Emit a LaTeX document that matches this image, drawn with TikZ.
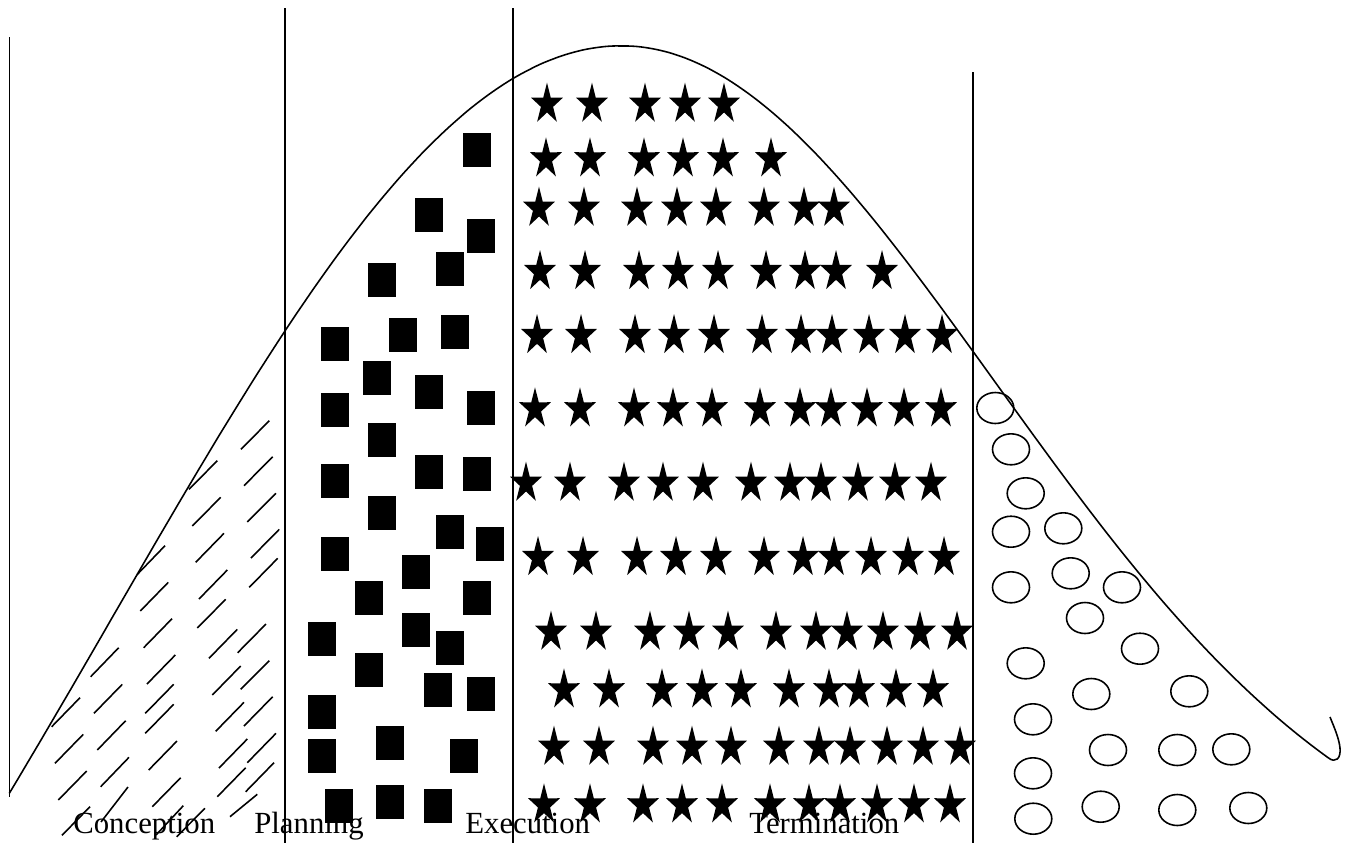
\documentclass[tikz,border=0pt]{standalone}
\usepackage{fontspec}
\setmainfont{Liberation Serif}
\begin{document}
\begin{tikzpicture}[x=0.02cm,y=-0.02cm,
  thinline/.style={line width=0.9pt},
  hatch/.style={line width=0.9pt},
  ring/.style={line width=0.9pt},
  lbl/.style={anchor=base west, inner sep=0pt, font=\fontsize{17.5pt}{20pt}\selectfont},
  bigstar/.pic={\fill (270:16.8 and 21.6) -- (306:6.4 and 8.2) -- (342:16.8 and 21.6) -- (18:6.4 and 8.2) -- (54:16.8 and 21.6) -- (90:6.4 and 8.2) -- (126:16.8 and 21.6) -- (162:6.4 and 8.2) -- (198:16.8 and 21.6) -- (234:6.4 and 8.2) -- cycle;}]
\useasboundingbox (0,0) rectangle (1349,843);

% labels
\node[lbl] (conc) at (73,833) {Conception};
\node[lbl] (plan) at (254,833) {Planning};
\node[lbl] (exec) at (465,833) {Execution};
\node[lbl] (term) at (749,833) {Termination};

% vertical lines
\coordinate (v1t) at (9.3,37);  \coordinate (v1b) at (9.3,797);
\coordinate (v2t) at (285,8);   \coordinate (v2b) at (285,843);
\coordinate (v3t) at (513,8);   \coordinate (v3b) at (513,843);
\coordinate (v4t) at (972.7,72);\coordinate (v4b) at (972.7,843);
\draw[thinline] (v1t) -- (v1b);
\draw[thinline] (v2t) -- (v2b);
\draw[thinline] (v3t) -- (v3b);
\draw[thinline] (v4t) -- (v4b);

% curve
\draw[thinline, line join=round]
  plot[domain=9.3:622, samples=80, smooth] (\x, {1500-1454*exp(-((\x-622)/100)^2/52.02)})
  -- plot[domain=622:1328, samples=90, smooth] (\x, {900-854*exp(-((\x-622)/100)^2/27.8258)})
  .. controls (1336,764) and (1341,758) .. (1340,748)
  .. controls (1339,738) and (1334,727) .. (1330,717);

% hatch dashes
\foreach \ax/\ay/\bx/\by in {241/449.3/269.3/420.7, 189/489.3/217.3/460.7, 244/485.7/272.7/456.7,
  192.3/526/220.7/497.3, 247.3/522/276/493.3, 137/574.7/165/545.7, 195.7/562.3/224/533.3,
  251/558/279.3/529.3, 249.3/587.3/277.7/558.3, 140.3/611/168.3/582.3, 199/599/227.3/570,
  197.3/628/225.7/599.3, 143.7/647.7/172/618.7, 209/658.3/237.3/629.3, 237.7/652.7/266/624,
  90.7/676.7/118.7/647.7, 147/684/175.3/655, 212.3/695/240.7/666, 240.7/689.3/269.3/660.7,
  51.7/726.7/80/697.7, 94/713.3/122.3/684.3, 145.3/713.3/173.7/684.3, 145.3/733.3/173.7/704.3,
  215.7/731.3/244/702.3, 244/726/272.7/696.7, 55/763.3/83.3/734.3, 97.3/750/125.7/720.7,
  148.7/770/177/741, 219/768/247.3/739, 247.3/762.7/276/733.3, 58.3/800/86.7/771,
  100.7/786.7/129/757.3, 152.3/806.7/180.7/777.7, 217.3/796.7/245.7/767.7, 245.7/791.7/274/762.7,
  62/835.3/90/806.7, 101/822/128/787, 176.7/836.7/205/808.3, 156/835/183.3/805.7, 230/816.7/257.3/794.3}
  {\draw[hatch] (\ax,\ay) -- (\bx,\by);}

% squares
\foreach \x/\y in {477/150, 429/215, 481/236, 450/269, 382/280, 335/344, 403/335, 455/332,
  377/378, 429/392, 335/410, 481/408, 382/440, 429/472, 477/474, 335/481, 382/513, 450/532,
  490/544, 335/554, 416/572, 369/598, 477/598, 322/639, 416/630, 450/648, 369/670, 438/690,
  481/694, 322/712, 390/743, 322/756, 464/756, 339/806, 390/802, 438/806}
  {\fill (\x-14,\y-17) rectangle (\x+14,\y+17);}

% stars
\foreach \x in {547,592,645,685,724} {\pic at (\x,104.3) {bigstar};}
\foreach \x in {546,590,644,683,723,771} {\pic at (\x,158.9) {bigstar};}
\foreach \x in {539,584,637,677,716,764,804,834} {\pic at (\x,208.3) {bigstar};}
\foreach \x in {540,585,639,678,718,766,805,836,882} {\pic at (\x,271.6) {bigstar};}
\foreach \x in {537,581,635,674,714,762,801,832,869,905,942} {\pic at (\x,335.6) {bigstar};}
\foreach \x in {535,580,634,673,712,760,800,831,867,904,941} {\pic at (\x,408.9) {bigstar};}
\foreach \x in {526,570,624,663,703,751,790,821,858,895,931} {\pic at (\x,483.3) {bigstar};}
\foreach \x in {538,583,637,676,716,764,803,834,871,908,944} {\pic at (\x,557.6) {bigstar};}
\foreach \x in {551,596,650,689,728,776,816,847,883,920,957} {\pic at (\x,632.3) {bigstar};}
\foreach \x in {564,609,662,702,741,789,829,859,896,933} {\pic at (\x,689.9) {bigstar};}
\foreach \x in {554,599,653,692,731,779,819,850,887,923,960} {\pic at (\x,747.3) {bigstar};}
\foreach \x in {544,590,643,682,722,770,809,840,877,914,950} {\pic at (\x,804.9) {bigstar};}

% circles
\foreach \x/\y in {995.3/408, 1011/449.3, 1025.7/493.3, 1011/531.7, 1063.3/528.3, 1011/587.3,
  1070.7/573.3, 1122/587.3, 1085/618, 1140/648.7, 1025.7/663.3, 1091.3/694, 1189.3/691.3,
  1033/719.3, 1108/750, 1177.3/750, 1231.3/749.3, 1033/773.3, 1033.3/818.7, 1100.7/806.7,
  1177.3/810, 1248.3/808}
  {\draw[ring] (\x,\y) ellipse [x radius=18.5, y radius=15.5];}
\end{tikzpicture}
\end{document}
